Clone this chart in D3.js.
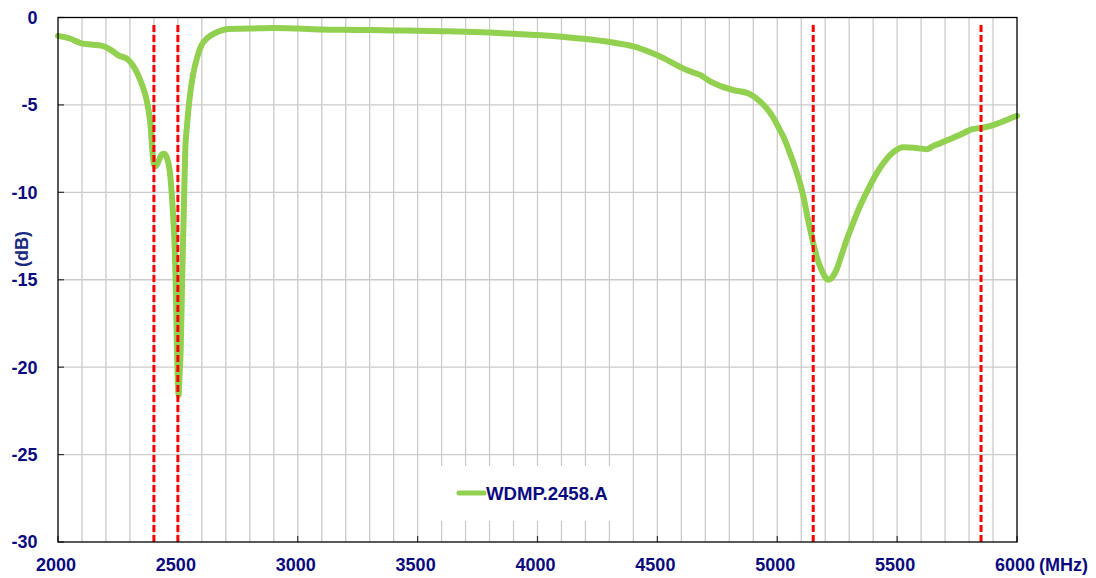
<!DOCTYPE html>
<html>
<head>
<meta charset="utf-8">
<script src="https://cdn.jsdelivr.net/npm/d3@7/dist/d3.min.js"></script>
<style>
html,body{margin:0;padding:0;background:#fff;}
svg{display:block;font-family:"Liberation Sans",Arial,sans-serif;}
</style>
</head>
<body>
<svg id="chart" width="1096" height="578"></svg>
<script>
const freqs = [2000,2050,2097,2140,2181,2220,2250,2292,2315,2334,2352,2368,2380,2387,2393,2400,2408,2420,2432,2442,2452,2460,2468,2475,2481,2487,2492,2496,2500,2503,2507,2512,2517,2521,2526,2531,2538,2549,2563,2580,2598,2625,2654,2680,2709,2760,2834,2900,3000,3100,3200,3300,3400,3500,3600,3700,3800,3900,4000,4100,4200,4300,4400,4470,4530,4580,4630,4680,4720,4760,4817,4886,4920,4956,4980,5004,5030,5053,5075,5095,5110,5123,5137,5150,5165,5185,5200,5213,5230,5248,5268,5290,5318,5345,5380,5415,5450,5484,5526,5570,5600,5623,5650,5679,5730,5776,5810,5846,5875,5901,5950,6000];
const dbValues = [-1.05,-1.2,-1.48,-1.55,-1.61,-1.85,-2.15,-2.4,-2.8,-3.29,-3.9,-4.62,-5.5,-6.34,-7.5,-8.4,-8.5,-8.2,-7.85,-7.8,-7.95,-8.3,-9.0,-10.2,-11.5,-13.2,-15.8,-18.9,-21.0,-21.6,-20.5,-18.9,-15.5,-13.2,-10.3,-7.5,-6.2,-4.6,-3.29,-2.3,-1.6,-1.15,-0.9,-0.75,-0.66,-0.64,-0.62,-0.6,-0.63,-0.68,-0.7,-0.72,-0.74,-0.76,-0.78,-0.81,-0.86,-0.93,-1.0,-1.1,-1.23,-1.4,-1.65,-1.99,-2.35,-2.72,-3.05,-3.3,-3.65,-3.9,-4.15,-4.38,-4.7,-5.2,-5.65,-6.25,-6.95,-7.77,-8.6,-9.49,-10.3,-11.2,-12.1,-12.9,-13.7,-14.45,-14.85,-15.0,-14.85,-14.4,-13.6,-12.7,-11.7,-10.8,-9.8,-8.9,-8.2,-7.7,-7.42,-7.45,-7.5,-7.54,-7.35,-7.2,-6.9,-6.62,-6.4,-6.32,-6.25,-6.15,-5.9,-5.62];
const markerFreqs = [2400,2500,5150,5850];
const xTicks = [2000,2500,3000,3500,4000,4500,5000,5500,6000];
const yTicks = [0,-5,-10,-15,-20,-25,-30];
const seriesName = "WDMP.2458.A";
const xUnit = "(MHz)";
const yUnit = "(dB)";

const L = 58, R = 1017, T = 17.5, B = 542;
const navy = "#0a0a80";
const svg = d3.select("#chart");
const x = d3.scaleLinear().domain([2000,6000]).range([L,R]);
const y = d3.scaleLinear().domain([-30,0]).range([B,T]);

// grid
const g = svg.append("g");
g.selectAll("line.vg").data(d3.range(2100,6000,100)).enter().append("line")
  .attr("x1",d=>x(d)).attr("x2",d=>x(d)).attr("y1",T).attr("y2",B)
  .attr("stroke","#cbcbcb").attr("stroke-width",1.3);
g.selectAll("line.hg").data(yTicks.filter(d=>d!==0&&d!==-30)).enter().append("line")
  .attr("x1",L).attr("x2",R).attr("y1",d=>y(d)).attr("y2",d=>y(d))
  .attr("stroke","#cbcbcb").attr("stroke-width",1.3);

// legend background
svg.append("rect").attr("x",432).attr("y",466).attr("width",193).attr("height",55).attr("fill","#fff");

// ticks (inward)
svg.selectAll("line.yt").data(yTicks).enter().append("line")
  .attr("x1",L).attr("x2",L+6).attr("y1",d=>y(d)).attr("y2",d=>y(d))
  .attr("stroke","#333").attr("stroke-width",1.2);
svg.selectAll("line.xt").data(xTicks).enter().append("line")
  .attr("x1",d=>x(d)).attr("x2",d=>x(d)).attr("y1",B).attr("y2",B-6)
  .attr("stroke","#333").attr("stroke-width",1.2);

// curve
const data = freqs.map((f,i)=>({f, v: dbValues[i]}));
svg.append("path").datum(data)
  .attr("d", d3.line().x(d=>x(d.f)).y(d=>y(d.v)).curve(d3.curveMonotoneX))
  .attr("fill","none").attr("stroke","#92D050").attr("stroke-width",6)
  .attr("stroke-linejoin","round").attr("stroke-linecap","round");

// red marker lines
svg.selectAll("line.mk").data(markerFreqs).enter().append("line")
  .attr("x1",d=>x(d)).attr("x2",d=>x(d)).attr("y1",25).attr("y2",B)
  .attr("stroke","#ff0000").attr("stroke-width",3).attr("stroke-dasharray","7,3");

// frame
svg.append("rect").attr("x",L).attr("y",T).attr("width",R-L).attr("height",B-T)
  .attr("fill","none").attr("stroke","#000").attr("stroke-width",1.3);

// tick labels
svg.selectAll("text.yl").data(yTicks).enter().append("text")
  .attr("x",37.5).attr("y",d=>y(d)+6.4).attr("text-anchor","end")
  .attr("font-size",18).attr("font-weight","bold").attr("fill",navy).text(d=>d);
svg.selectAll("text.xl").data(xTicks).enter().append("text")
  .attr("x",d=>x(d)-2).attr("y",571).attr("text-anchor","middle")
  .attr("font-size",18).attr("font-weight","bold").attr("fill",navy).text(d=>d);
svg.append("text").attr("x",1039).attr("y",571).attr("font-size",18).attr("font-weight","bold")
  .attr("fill",navy).text(xUnit);
svg.append("text").attr("transform","translate(28,249) rotate(-90)").attr("text-anchor","middle")
  .attr("font-size",18).attr("font-weight","bold").attr("fill","#1a2a80").text(yUnit);

// legend
svg.append("line").attr("x1",459).attr("x2",484).attr("y1",493).attr("y2",493)
  .attr("stroke","#92D050").attr("stroke-width",5).attr("stroke-linecap","round");
svg.append("text").attr("x",486).attr("y",500).attr("font-size",18.6).attr("font-weight","bold")
  .attr("fill",navy).text(seriesName);
</script>
</body>
</html>
